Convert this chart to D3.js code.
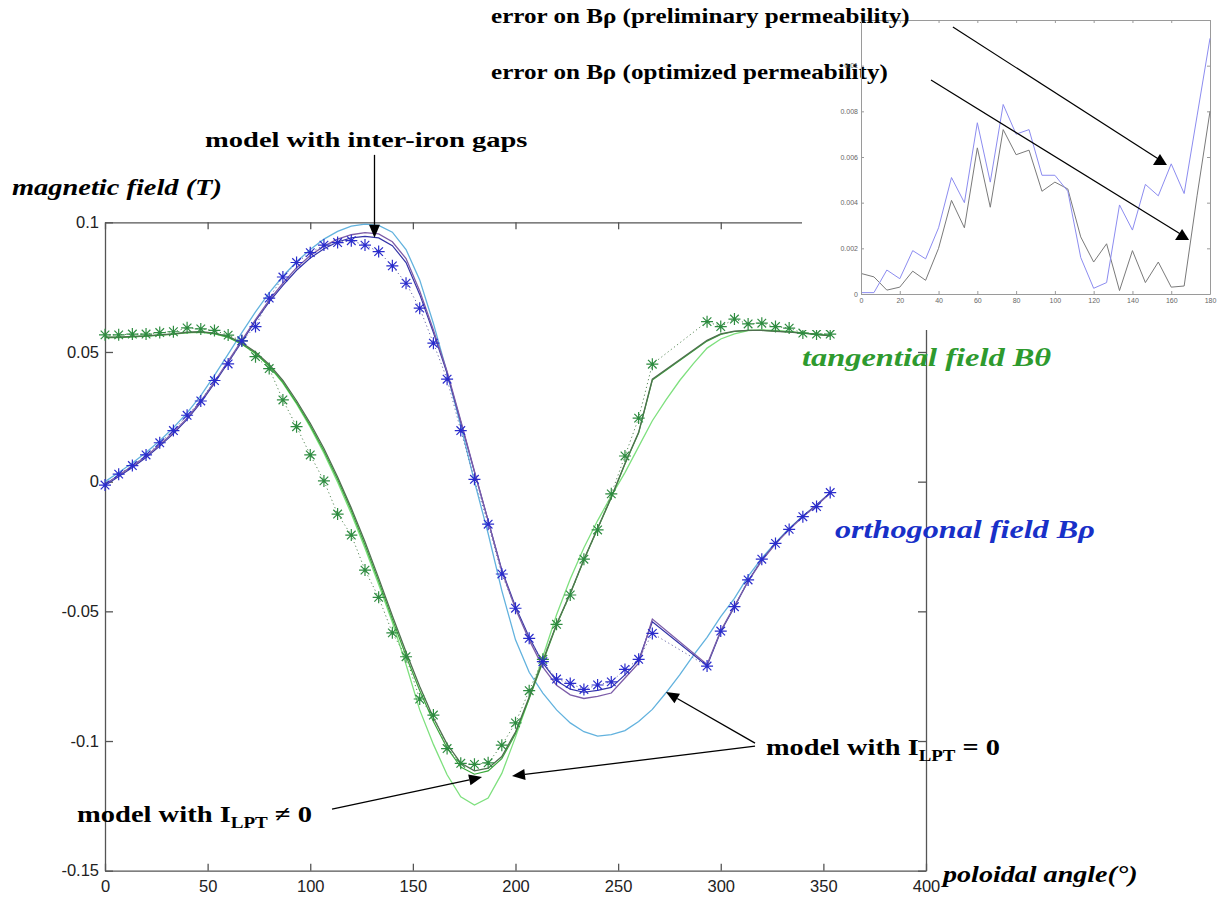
<!DOCTYPE html>
<html>
<head>
<meta charset="utf-8">
<script src="https://d3js.org/d3.v7.min.js"></script>
<style>
  body { margin: 0; background: #fff; }
  svg { display: block; }
</style>
</head>
<body>
<script>
// poloidal angles of the probes (deg); 273-287 missing in the measurements
var angles = [0, 6.67, 13.33, 20, 26.67, 33.33, 40, 46.67, 53.33, 60,
  66.67, 73.33, 80, 86.67, 93.33, 100, 106.67, 113.33, 120, 126.67,
  133.33, 140, 146.67, 153.33, 160, 166.67, 173.33, 180, 186.67, 193.33,
  200, 206.67, 213.33, 220, 226.67, 233.33, 240, 246.67, 253.33, 260,
  266.67,
  293.33, 300, 306.67, 313.33, 320, 326.67, 333.33, 340, 346.67, 353.33];

var anglesFull = [0, 6.67, 13.33, 20, 26.67, 33.33, 40, 46.67, 53.33, 60,
  66.67, 73.33, 80, 86.67, 93.33, 100, 106.67, 113.33, 120, 126.67,
  133.33, 140, 146.67, 153.33, 160, 166.67, 173.33, 180, 186.67, 193.33,
  200, 206.67, 213.33, 220, 226.67, 233.33, 240, 246.67, 253.33, 260,
  266.67, 273.33, 280, 286.67,
  293.33, 300, 306.67, 313.33, 320, 326.67, 333.33, 340, 346.67, 353.33];

// orthogonal field B rho (T)
var rhoMeasured = [-0.0013, 0.0029, 0.0062, 0.0103, 0.0150, 0.0197, 0.0256, 0.0311, 0.0390, 0.0454,
  0.0543, 0.0598, 0.0708, 0.0789, 0.0845, 0.0883, 0.0912, 0.0922, 0.0929, 0.0912,
  0.0887, 0.0832, 0.0765, 0.0669, 0.0534, 0.0395, 0.0197, 0.0009, -0.0164, -0.0356,
  -0.0488, -0.0604, -0.0694, -0.0761, -0.0778, -0.0801, -0.0784, -0.0772, -0.0724, -0.0685,
  -0.0585,
  -0.0711, -0.0576, -0.0482, -0.0379, -0.0299, -0.0238, -0.0184, -0.0135, -0.0096, -0.0042];
var rhoGaps = [-0.0010, 0.0025, 0.0060, 0.0098, 0.0142, 0.0190, 0.0245, 0.0310, 0.0385, 0.0465,
  0.0545, 0.0625, 0.0700, 0.0765, 0.0825, 0.0872, 0.0908, 0.0935, 0.0952, 0.0960,
  0.0955, 0.0925, 0.0860, 0.0735, 0.0585, 0.0425, 0.0235, 0.0040, -0.0150, -0.0345,
  -0.0490, -0.0610, -0.0715, -0.0785, -0.0822, -0.0836, -0.0828, -0.0815, -0.0757, -0.0700,
  -0.0530,
  -0.0705, -0.0575, -0.0480, -0.0385, -0.0305, -0.0240, -0.0185, -0.0135, -0.0092, -0.0045];
var rhoLpt = [-0.0015, 0.0020, 0.0055, 0.0093, 0.0137, 0.0185, 0.0240, 0.0305, 0.0380, 0.0460,
  0.0540, 0.0620, 0.0693, 0.0757, 0.0815, 0.0862, 0.0898, 0.0924, 0.0940, 0.0946,
  0.0940, 0.0910, 0.0845, 0.0722, 0.0575, 0.0418, 0.0230, 0.0038, -0.0150, -0.0340,
  -0.0482, -0.0600, -0.0700, -0.0768, -0.0800, -0.0812, -0.0805, -0.0793, -0.0745, -0.0688,
  -0.0540,
  -0.0710, -0.0578, -0.0483, -0.0383, -0.0302, -0.0238, -0.0183, -0.0133, -0.0090, -0.0043];
var rhoZero = [0.0000, 0.0035, 0.0072, 0.0112, 0.0158, 0.0208, 0.0265, 0.0332, 0.0410, 0.0492,
  0.0575, 0.0655, 0.0728, 0.0792, 0.0848, 0.0895, 0.0935, 0.0965, 0.0985, 0.0993,
  0.0988, 0.0962, 0.0895, 0.0778, 0.0610, 0.0420, 0.0215, 0.0000, -0.0200, -0.0420,
  -0.0610, -0.0735, -0.0815, -0.0880, -0.0930, -0.0964, -0.0981, -0.0975, -0.0960, -0.0925,
  -0.0878, -0.0814, -0.0745, -0.0670,
  -0.0600, -0.0520, -0.0450, -0.0365, -0.0295, -0.0235, -0.0180, -0.0132, -0.0090, -0.0043];

// tangential field B theta (T)
var thetaMeasured = [0.0566, 0.0566, 0.0569, 0.0569, 0.0575, 0.0578, 0.0593, 0.0589, 0.0583, 0.0565,
  0.0543, 0.0482, 0.0436, 0.0315, 0.0212, 0.0103, 0.0003, -0.0125, -0.0206, -0.0341,
  -0.0446, -0.0583, -0.0675, -0.0838, -0.0900, -0.1029, -0.1086, -0.1090, -0.1084, -0.1016,
  -0.0930, -0.0806, -0.0685, -0.0550, -0.0437, -0.0299, -0.0186, -0.0047, 0.0099, 0.0245,
  0.0453,
  0.0617, 0.0598, 0.0627, 0.0608, 0.0611, 0.0598, 0.0592, 0.0573, 0.0569, 0.0569];
var thetaGaps = [0.0557, 0.0557, 0.0560, 0.0562, 0.0566, 0.0570, 0.0576, 0.0578, 0.0573, 0.0560,
  0.0535, 0.0500, 0.0452, 0.0390, 0.0312, 0.0225, 0.0128, 0.0018, -0.0102, -0.0232,
  -0.0372, -0.0517, -0.0657, -0.0790, -0.0910, -0.1012, -0.1085, -0.1115, -0.1105, -0.1060,
  -0.0965, -0.0830, -0.0690, -0.0550, -0.0430, -0.0300, -0.0180, -0.0060, 0.0070, 0.0190,
  0.0395,
  0.0545, 0.0570, 0.0580, 0.0583, 0.0583, 0.0580, 0.0577, 0.0573, 0.0568, 0.0562];
var thetaLpt = [0.0555, 0.0555, 0.0558, 0.0561, 0.0565, 0.0569, 0.0575, 0.0577, 0.0571, 0.0557,
  0.0531, 0.0495, 0.0446, 0.0383, 0.0304, 0.0216, 0.0118, 0.0008, -0.0112, -0.0244,
  -0.0384, -0.0530, -0.0672, -0.0805, -0.0925, -0.1027, -0.1100, -0.1128, -0.1115, -0.1068,
  -0.0972, -0.0836, -0.0695, -0.0553, -0.0432, -0.0302, -0.0182, -0.0062, 0.0068, 0.0188,
  0.0392,
  0.0542, 0.0568, 0.0579, 0.0583, 0.0583, 0.0580, 0.0577, 0.0573, 0.0568, 0.0562];
var thetaZero = [0.0557, 0.0557, 0.0559, 0.0561, 0.0565, 0.0569, 0.0574, 0.0576, 0.0570, 0.0556,
  0.0530, 0.0494, 0.0445, 0.0380, 0.0300, 0.0210, 0.0110, -0.0002, -0.0124, -0.0257,
  -0.0397, -0.0542, -0.0705, -0.0880, -0.1013, -0.1130, -0.1215, -0.1247, -0.1220, -0.1125,
  -0.0985, -0.0835, -0.0675, -0.0513, -0.0375, -0.0255, -0.0150, -0.0055, 0.0035, 0.0135,
  0.0235, 0.0315, 0.0390, 0.0455,
  0.0515, 0.0550, 0.0570, 0.0582, 0.0585, 0.0583, 0.0579, 0.0574, 0.0569, 0.0563];

var xTicks = [0, 50, 100, 150, 200, 250, 300, 350, 400];
var yTicks = [-0.15, -0.1, -0.05, 0, 0.05, 0.1];

// inset: error on B rho
var insetAngles = [0, 6.67, 13.33, 20, 26.67, 33.33, 40, 46.67, 53.33, 60,
  66.67, 73.33, 80, 86.67, 93.33, 100, 106.67, 113.33, 120, 126.67,
  133.33, 140, 146.67, 153.33, 160, 166.67, 173.33, 180];
var errPreliminary = [0.00006, 0.00006, 0.00105, 0.00067, 0.0019, 0.00154, 0.0029, 0.0051, 0.0040, 0.0075,
  0.0049, 0.0083, 0.0070, 0.0072, 0.0052, 0.0052, 0.0045, 0.0016, 0.00025, 0.0005,
  0.0039, 0.0028, 0.0048, 0.0043, 0.0057, 0.0044, 0.0078, 0.0112];
var errOptimized = [0.0009, 0.00075, 0.00017, 0.0003, 0.0010, 0.0006, 0.0020, 0.0041, 0.0029, 0.0064,
  0.0038, 0.0072, 0.0061, 0.0063, 0.0045, 0.0049, 0.0046, 0.0025, 0.0014, 0.0022,
  0.00015, 0.0019, 0.0005, 0.0014, 0.0003, 0.00035, 0.0043, 0.0080];
var insetXTicks = [0, 20, 40, 60, 80, 100, 120, 140, 160, 180];
var insetYTicks = [0, 0.002, 0.004, 0.006, 0.008, 0.01];

var W = 1221, H = 899;
var serif = "'Liberation Serif', 'Times New Roman', serif";
var sans = "'Liberation Sans', Arial, sans-serif";

var svg = d3.select("body").append("svg")
    .attr("width", W)
    .attr("height", H);
svg.append("rect").attr("width", W).attr("height", H).attr("fill", "#fff");

var x = d3.scaleLinear().domain([0, 400]).range([105, 926]);
var y = d3.scaleLinear().domain([-0.15, 0.1]).range([870.7, 222.3]);

// ---- main axes
function fmtMain(d) { return String(+d.toFixed(2)); }

function styleAxis(g, col) {
    g.selectAll("path.domain").attr("stroke", col).attr("stroke-width", 1.3);
    g.selectAll(".tick line").attr("stroke", col).attr("stroke-width", 1.3);
}

var gx = svg.append("g").attr("transform", "translate(0," + y(-0.15) + ")")
    .call(d3.axisBottom(x).tickValues(xTicks).tickSizeInner(-7).tickSizeOuter(0)
        .tickPadding(10).tickFormat(d3.format("d")));
var gxt = svg.append("g").attr("transform", "translate(0," + y(0.1) + ")")
    .call(d3.axisTop(x).tickValues(xTicks).tickSizeInner(-7).tickSizeOuter(0).tickFormat(""));
var gy = svg.append("g").attr("transform", "translate(" + x(0) + ",0)")
    .call(d3.axisLeft(y).tickValues(yTicks).tickSizeInner(-8).tickSizeOuter(0)
        .tickPadding(6).tickFormat(fmtMain));
var gyr = svg.append("g").attr("transform", "translate(" + x(400) + ",0)")
    .call(d3.axisRight(y).tickValues(yTicks).tickSizeInner(-8).tickSizeOuter(0).tickFormat(""));
[gx, gxt, gy, gyr].forEach(function(g) { styleAxis(g, "#555"); });
[gx, gy].forEach(function(g) {
    g.selectAll("text").attr("font-family", sans).attr("font-size", 16.5).attr("fill", "#222");
});

// ---- curves
var line = d3.line().x(function(d) { return x(d[0]); }).y(function(d) { return y(d[1]); });

var curves = [
    { xs: anglesFull, ys: rhoZero, color: "#62b2de", width: 1.3 },
    { xs: anglesFull, ys: thetaZero, color: "#7ee07e", width: 1.3 },
    { xs: angles, ys: thetaLpt, color: "#3aa83a", width: 1.2 },
    { xs: angles, ys: thetaGaps, color: "#4f6f4f", width: 1.3 },
    { xs: angles, ys: rhoLpt, color: "#3434a8", width: 1.2 },
    { xs: angles, ys: rhoGaps, color: "#7c5ca8", width: 1.3 }
];
curves.forEach(function(c) {
    svg.append("path")
        .datum(d3.zip(c.xs, c.ys))
        .attr("d", line)
        .attr("fill", "none")
        .attr("stroke", c.color)
        .attr("stroke-width", c.width);
});

var measured = [
    { ys: thetaMeasured, color: "#2e8c40", dots: "#5a8a5a" },
    { ys: rhoMeasured, color: "#2a2ccc", dots: "#6a6aa8" }
];
var star = "M-6,0H6M0,-6V6M-4.3,-4.3L4.3,4.3M-4.3,4.3L4.3,-4.3";
measured.forEach(function(m) {
    var pts = d3.zip(angles, m.ys);
    svg.append("path")
        .datum(pts)
        .attr("d", line)
        .attr("fill", "none")
        .attr("stroke", m.dots)
        .attr("stroke-width", 1)
        .attr("stroke-dasharray", "1.2,2.8");
    svg.append("g").selectAll("path")
        .data(pts)
        .enter()
        .append("path")
        .attr("d", star)
        .attr("transform", function(d) { return "translate(" + x(d[0]) + "," + y(d[1]) + ")"; })
        .attr("fill", "none")
        .attr("stroke", m.color)
        .attr("stroke-width", 1.2);
});

// ---- inset (pasted over the upper right corner)
svg.append("rect").attr("x", 802).attr("y", 0).attr("width", W - 802).attr("height", 330).attr("fill", "#fff");

var ix = d3.scaleLinear().domain([0, 180]).range([861, 1210]);
var iy = d3.scaleLinear().domain([0, 0.012]).range([294, 20]);

function fmtInset(d) { return d === 0 ? "0" : d3.format(".3~f")(d); }
var ia = [
    svg.append("g").attr("transform", "translate(0," + iy(0) + ")")
        .call(d3.axisBottom(ix).tickValues(insetXTicks).tickSizeInner(-3).tickSizeOuter(0).tickPadding(4)),
    svg.append("g").attr("transform", "translate(0," + iy(0.012) + ")")
        .call(d3.axisTop(ix).tickValues(insetXTicks).tickSizeInner(-3).tickSizeOuter(0).tickFormat("")),
    svg.append("g").attr("transform", "translate(" + ix(0) + ",0)")
        .call(d3.axisLeft(iy).tickValues(insetYTicks).tickSizeInner(-3).tickSizeOuter(0).tickPadding(3).tickFormat(fmtInset)),
    svg.append("g").attr("transform", "translate(" + ix(180) + ",0)")
        .call(d3.axisRight(iy).tickValues(insetYTicks).tickSizeInner(-3).tickSizeOuter(0).tickFormat(""))
];
ia.forEach(function(g) {
    g.selectAll("path.domain").attr("stroke", "#9a9a9a").attr("stroke-width", 1);
    g.selectAll(".tick line").attr("stroke", "#9a9a9a").attr("stroke-width", 1);
    g.selectAll("text").attr("font-family", sans).attr("font-size", 7).attr("fill", "#666");
});

var iline = d3.line().x(function(d) { return ix(d[0]); }).y(function(d) { return iy(d[1]); });
svg.append("path").datum(d3.zip(insetAngles, errOptimized)).attr("d", iline)
    .attr("fill", "none").attr("stroke", "#7a7a7a").attr("stroke-width", 1);
svg.append("path").datum(d3.zip(insetAngles, errPreliminary)).attr("d", iline)
    .attr("fill", "none").attr("stroke", "#8c8cf0").attr("stroke-width", 1);

// ---- arrows
function arrow(x1, y1, x2, y2) {
    var g = svg.append("g");
    var dx = x2 - x1, dy = y2 - y1, L = Math.sqrt(dx * dx + dy * dy);
    var ux = dx / L, uy = dy / L, len = 13, hw = 5.5;
    var bx = x2 - ux * len, by = y2 - uy * len;
    g.append("line").attr("x1", x1).attr("y1", y1).attr("x2", bx).attr("y2", by)
        .attr("stroke", "#000").attr("stroke-width", 1.3);
    g.append("polygon")
        .attr("points", [[x2, y2], [bx - uy * hw, by + ux * hw], [bx + uy * hw, by - ux * hw]].join(" "))
        .attr("fill", "#000");
}
arrow(x(131.3), y(0.126), x(131.3), y(0.094));
arrow(x(110.6), y(-0.1263), x(183.7), y(-0.1139));
arrow(x(316.7), y(-0.1008), x(273.3), y(-0.0811));
arrow(x(316.7), y(-0.1020), x(198.3), y(-0.1135));

function insetArrow(a1, e1, a2, e2) {
    var cx = ix(a2), cy = iy(e2);
    svg.append("line").attr("x1", ix(a1)).attr("y1", iy(e1)).attr("x2", cx).attr("y2", cy)
        .attr("stroke", "#000").attr("stroke-width", 1.2);
    svg.append("polygon")
        .attr("points", [[cx, cy - 6], [cx - 7, cy + 5], [cx + 7, cy + 5]].join(" "))
        .attr("fill", "#000");
}
insetArrow(47.4, 0.01169, 154.2, 0.00587);
insetArrow(36.1, 0.00937, 165.6, 0.00258);

// ---- text labels, stretched to the widths in the original
function label(px, py, width, build) {
    var g = svg.append("g");
    var t = g.append("text").attr("x", 0).attr("y", 0);
    build(t);
    var w = t.node().getBBox().width;
    g.attr("transform", "translate(" + px + "," + py + ") scale(" + (width / w) + ",1)");
    return t;
}
function bold(t, size, italic, color) {
    t.attr("font-family", serif).attr("font-weight", "bold").attr("font-size", size)
        .attr("font-style", italic ? "italic" : "normal").attr("fill", color || "#000");
}

label(12, 195, 210, function(t) { bold(t, 24, true); t.text("magnetic field (T)"); });
label(943, 882, 197, function(t) { bold(t, 24, true); t.text("poloidal angle(°)"); });
label(205, 147, 323, function(t) { bold(t, 20); t.text("model with inter-iron gaps"); });
label(491, 23, 419, function(t) { bold(t, 20); t.text("error on Bρ (preliminary permeability)"); });
label(491, 79, 397, function(t) { bold(t, 20); t.text("error on Bρ (optimized permeability)"); });
label(802, 366, 250, function(t) { bold(t, 26, true, "#2e9a2e"); t.text("tangential field Bθ"); });
label(835, 538, 260, function(t) { bold(t, 26, true, "#1830c8"); t.text("orthogonal field Bρ"); });

function lptLabel(t, sign) {
    bold(t, 24);
    t.append("tspan").text("model with I");
    t.append("tspan").attr("font-size", 16).attr("dy", 6).text("LPT");
    t.append("tspan").attr("dy", -6).text(" " + sign + " 0");
}
label(766, 755, 234, function(t) { lptLabel(t, "="); });
label(77, 822, 235, function(t) { lptLabel(t, "≠"); });

// the inset's tick labels sit on top of the overlapping caption, as in the original
ia[2].raise();
</script>
</body>
</html>
